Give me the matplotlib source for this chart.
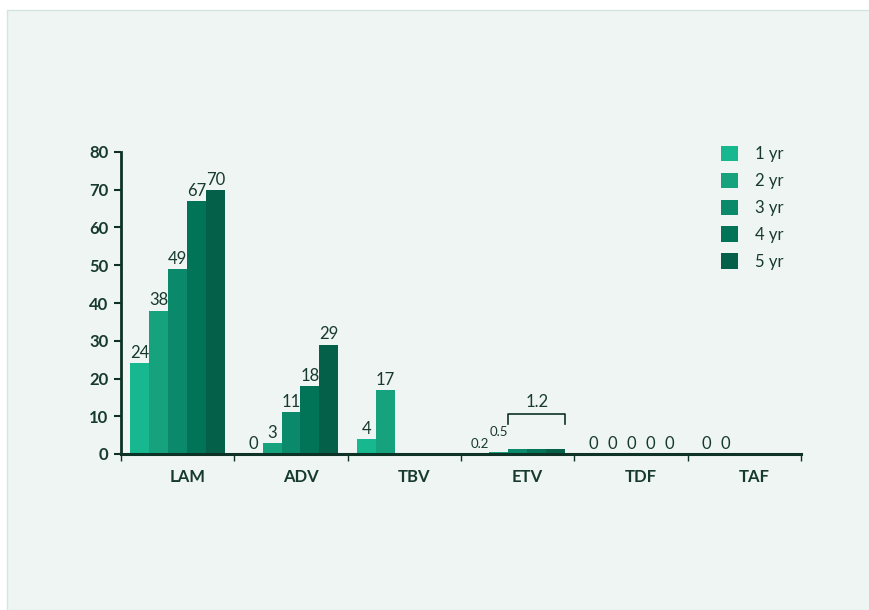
import numpy as np
import matplotlib.pyplot as plt
from matplotlib.patches import Rectangle

categories = ['LAM', 'ADV', 'TBV', 'ETV', 'TDF', 'TAF']
series = ['1 yr', '2 yr', '3 yr', '4 yr', '5 yr']
# None = no bar / no label
values = [
    [24, 0, 4, 0.2, 0, 0],
    [38, 3, 17, 0.5, 0, 0],
    [49, 11, None, 1.2, 0, None],
    [67, 18, None, 1.2, 0, None],
    [70, 29, None, 1.2, 0, None],
]
labels = [
    ['24', '0', '4', '0.2', '0', '0'],
    ['38', '3', '17', '0.5', '0', '0'],
    ['49', '11', '', '', '0', ''],
    ['67', '18', '', '', '0', ''],
    ['70', '29', '', '', '0', ''],
]
colors = ['#17b88f', '#15a27c', '#0a8a6a', '#017458', '#046049']
etv_bracket = '1.2'

plt.rcParams['font.family'] = ['Lato', 'DejaVu Sans']
txt = '#173a2e'
axc = '#0e3226'

fig = plt.figure(figsize=(8.69, 6.10), dpi=100)
fig.patches.append(Rectangle((7/869, 0), 1, 600/610, transform=fig.transFigure,
                             facecolor='#eff5f3', edgecolor='#d3e6de', lw=1, zorder=-1))
ax = fig.add_axes([121/869, 156/610, 680/869, 302/610])
ax.set_facecolor('none')

w = 0.1676
x = np.arange(len(categories)) + 0.5
for j, s in enumerate(series):
    xs, hs = [], []
    for i, v in enumerate(values[j]):
        if v is not None:
            xs.append(x[i] + (j - 2) * w)
            hs.append(v)
    ax.bar(xs, hs, width=w, color=colors[j], label=s, zorder=2)
    for i, v in enumerate(values[j]):
        lab = labels[j][i]
        if not lab:
            continue
        small = lab in ('0.2', '0.5')
        dy = 1.5
        if lab == '0.5':
            dy = 10
        elif lab == '0.2':
            dy = 2.5
        ax.annotate(lab, (x[i] + (j - 2) * w, v), xytext=(0, dy), textcoords='offset points',
                    ha='center', va='bottom', fontsize=9.5 if small else 12, color=txt)

# bracket over ETV 3-5 yr
i = categories.index('ETV')
xl = x[i] + (2 - 2) * w - w / 2
xr = x[i] + (4 - 2) * w + w / 2
ax.plot([xl, xl, xr, xr], [7.9, 10.6, 10.6, 7.9], color=axc, lw=1.2, zorder=3)
ax.text((xl + xr) / 2, 11.6, etv_bracket, ha='center', va='bottom', fontsize=12, color=txt)

ax.set_xlim(0, 6)
ax.set_ylim(0, 80)
ax.set_yticks(range(0, 81, 10))
ax.set_xticks(range(0, 7))
ax.set_xticklabels([])
ax.set_xticks(x + 0.085, minor=True)
ax.set_xticklabels(categories, minor=True, fontweight='bold', fontsize=12, color=txt)
ax.tick_params(axis='x', which='minor', length=0, pad=11)
ax.tick_params(axis='x', which='major', length=5, width=1, color=axc, direction='out')
ax.tick_params(axis='y', length=5, width=1.5, color=axc, labelsize=12, labelcolor=txt, pad=4)
for t in ax.get_yticklabels():
    t.set_fontweight('bold')
for s in ['top', 'right']:
    ax.spines[s].set_visible(False)
ax.spines['left'].set_color(axc)
ax.spines['left'].set_linewidth(2)
ax.spines['bottom'].set_color(axc)
ax.spines['bottom'].set_linewidth(2.2)

ax.legend(loc='upper left', bbox_to_anchor=(714/869, 1 - 139/610), bbox_transform=fig.transFigure,
          frameon=False, fontsize=12, labelcolor=txt, handlelength=1.05, handleheight=1.05,
          handletextpad=1.0, labelspacing=0.63, borderaxespad=0)

fig.savefig('out.png', dpi=100)
